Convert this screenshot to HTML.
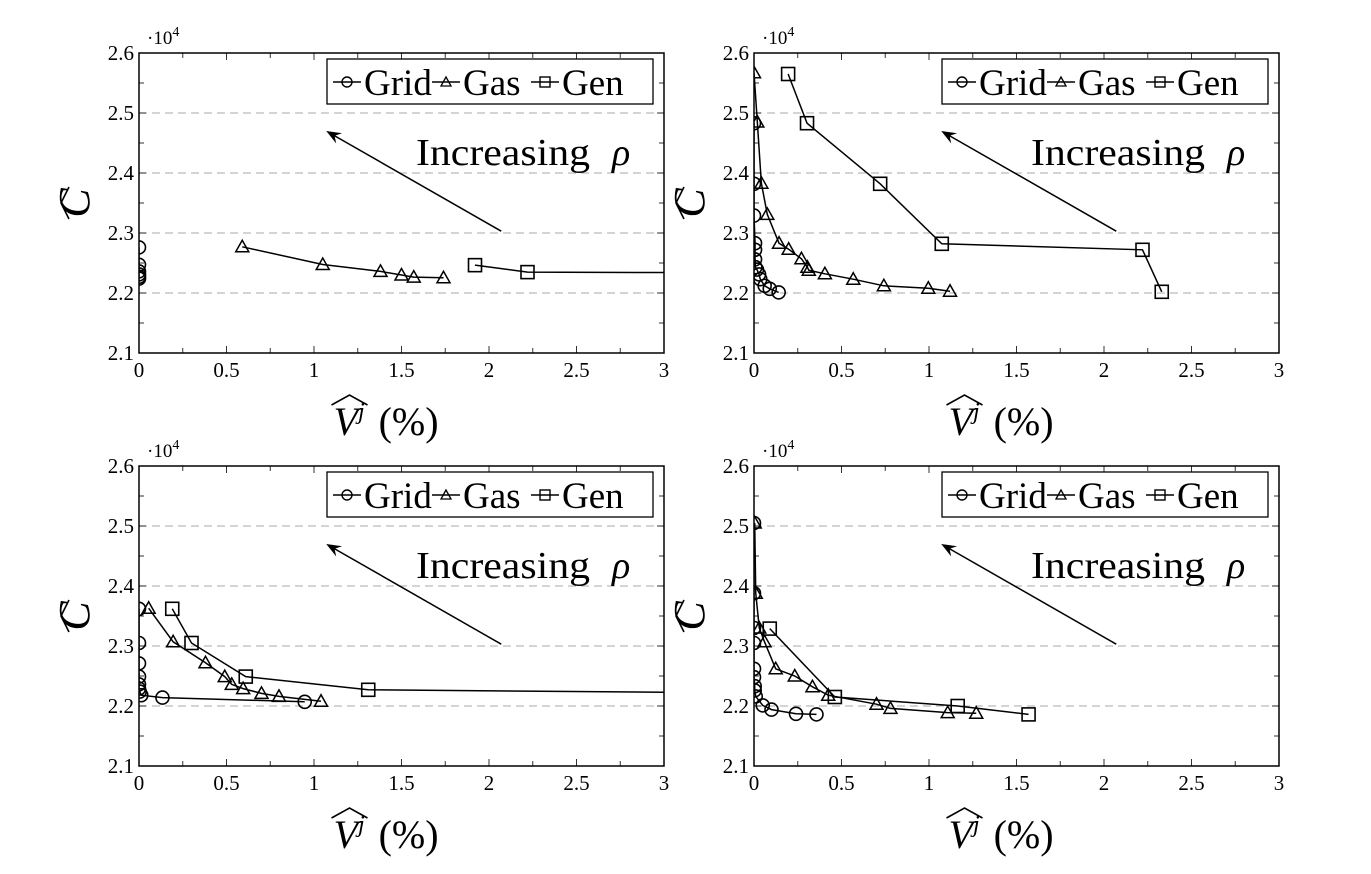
<!DOCTYPE html>
<html><head><meta charset="utf-8"><style>
html,body{margin:0;padding:0;background:#fff;}
svg{display:block;font-family:"Liberation Serif",serif;}
</style></head><body>
<svg id="fig" width="1371" height="874" viewBox="0 0 1371 874"></svg>
<script>
// ---- data (values in units of 1e4 for cost; percent for x) ----
const panel1GridX=[0,0,0,0,0,0];
const panel1GridY=[2.276,2.247,2.236,2.231,2.227,2.224];
const panel1GasX=[0.59,1.05,1.38,1.50,1.57,1.74];
const panel1GasY=[2.277,2.2475,2.236,2.230,2.2265,2.2254];
const panel1GenX=[1.92,2.22,3.6];
const panel1GenY=[2.2464,2.2348,2.2335];

const panel2GridX=[0,0,0,0.006,0.006,0.006,0.008,0.017,0.029,0.036,0.061,0.09,0.141];
const panel2GridY=[2.483,2.382,2.329,2.283,2.272,2.256,2.243,2.239,2.231,2.223,2.212,2.207,2.201];
const panel2GasX=[0,0.019,0.042,0.076,0.143,0.198,0.271,0.305,0.313,0.405,0.567,0.742,0.996,1.12];
const panel2GasY=[2.567,2.485,2.383,2.331,2.283,2.273,2.257,2.243,2.238,2.232,2.223,2.212,2.208,2.203];
const panel2GenX=[0.195,0.303,0.721,1.073,2.22,2.33];
const panel2GenY=[2.565,2.483,2.382,2.282,2.272,2.202];

const panel3GridX=[0,0,0,0,0,0,0.004,0.013,0.134,0.947];
const panel3GridY=[2.362,2.305,2.271,2.249,2.236,2.229,2.224,2.218,2.214,2.207];
const panel3GasX=[0.055,0.195,0.38,0.49,0.53,0.595,0.70,0.80,1.04];
const panel3GasY=[2.363,2.307,2.272,2.249,2.236,2.229,2.221,2.216,2.208];
const panel3GenX=[0.19,0.30,0.61,1.31,3.6];
const panel3GenY=[2.362,2.305,2.249,2.227,2.2215];

const panel4GridX=[0,0,0,0,0,0,0.004,0.004,0.01,0.05,0.10,0.24,0.357];
const panel4GridY=[2.505,2.388,2.330,2.305,2.262,2.248,2.233,2.226,2.216,2.201,2.194,2.187,2.186];
const panel4GasX=[0.004,0.01,0.03,0.06,0.124,0.233,0.334,0.424,0.70,0.78,1.107,1.27];
const panel4GasY=[2.505,2.388,2.330,2.307,2.262,2.250,2.232,2.218,2.203,2.196,2.189,2.188];
const panel4GenX=[0.09,0.462,1.164,1.569];
const panel4GenY=[2.329,2.215,2.200,2.186];

const xTicks=[0,0.5,1,1.5,2,2.5,3];
const xTickLabels=["0","0.5","1","1.5","2","2.5","3"];
const yTicks=[2.1,2.2,2.3,2.4,2.5,2.6];
const yTickLabels=["2.1","2.2","2.3","2.4","2.5","2.6"];
const gridYs=[2.2,2.3,2.4,2.5];
const arrowFrom=[2.07,2.303];
const arrowTo=[1.07,2.47];

const panels=[
 {name:"top-left",x0:139,y0:53,gx:panel1GridX,gy:panel1GridY,ax:panel1GasX,ay:panel1GasY,nx:panel1GenX,ny:panel1GenY},
 {name:"top-right",x0:754,y0:53,gx:panel2GridX,gy:panel2GridY,ax:panel2GasX,ay:panel2GasY,nx:panel2GenX,ny:panel2GenY},
 {name:"bottom-left",x0:139,y0:466,gx:panel3GridX,gy:panel3GridY,ax:panel3GasX,ay:panel3GasY,nx:panel3GenX,ny:panel3GenY},
 {name:"bottom-right",x0:754,y0:466,gx:panel4GridX,gy:panel4GridY,ax:panel4GasX,ay:panel4GasY,nx:panel4GenX,ny:panel4GenY}
];
const W=525,H=300;
const NS="http://www.w3.org/2000/svg";
const svg=document.getElementById('fig');
function mk(tag,attrs,parent){const e=document.createElementNS(NS,tag);for(const k in attrs)e.setAttribute(k,attrs[k]);(parent||svg).appendChild(e);return e;}
function marker(kind,px,py,g){
 let e;
 if(kind==="grid"){e=mk('circle',{cx:px,cy:py,r:6.5,fill:'none',stroke:'#000','stroke-width':1.6},g);}
 else if(kind==="gas"){e=mk('polygon',{points:`${px},${py-6.5} ${px-6.5},${py+5} ${px+6.5},${py+5}`,fill:'none',stroke:'#000','stroke-width':1.5},g);}
 else {e=mk('rect',{x:px-6.5,y:py-6.5,width:13,height:13,fill:'none',stroke:'#000','stroke-width':1.6},g);}
 return e;
}
panels.forEach((p,i)=>{
 const sx=v=>p.x0+v/3*W;
 const sy=v=>p.y0+H-(v-2.1)/0.5*H;
 const g=mk('g',{});
 
 
 const cid='clip'+i;
 const cp=mk('clipPath',{id:cid},g);mk('rect',{x:p.x0,y:p.y0,width:W,height:H},cp);
 gridYs.forEach(v=>{const l=mk('line',{x1:p.x0,x2:p.x0+W,y1:sy(v),y2:sy(v),stroke:'#bbb','stroke-width':1.2,'stroke-dasharray':'8,5'},g);
  });
 for(let k=0;k<=12;k++){const x=p.x0+k*W/12;const len=k%2===0?7:5;
  mk('line',{x1:x,x2:x,y1:p.y0+H,y2:p.y0+H-len,stroke:'#333','stroke-width':1},g);
  mk('line',{x1:x,x2:x,y1:p.y0,y2:p.y0+len,stroke:'#333','stroke-width':1},g);}
 for(let k=0;k<=10;k++){const y=p.y0+k*H/10;const len=k%2===0?7:5;
  mk('line',{x1:p.x0,x2:p.x0+len,y1:y,y2:y,stroke:'#333','stroke-width':1},g);
  mk('line',{x1:p.x0+W,x2:p.x0+W-len,y1:y,y2:y,stroke:'#333','stroke-width':1},g);}
 xTicks.forEach((v,k)=>{const t=mk('text',{x:sx(v),y:p.y0+H+24,'text-anchor':'middle','font-size':21},g);t.textContent=xTickLabels[k];
  });
 yTicks.forEach((v,k)=>{const t=mk('text',{x:p.x0-5,y:sy(v)+7,'text-anchor':'end','font-size':21},g);t.textContent=yTickLabels[k];
  });
 const sc=mk('text',{x:p.x0+8,y:p.y0-9,'font-size':19},g);sc.innerHTML='·10<tspan dy="-8" font-size="14">4</tspan>';
 
 const series=[["grid",p.gx,p.gy],["gas",p.ax,p.ay],["gen",p.nx,p.ny]];
 const sg=mk('g',{'clip-path':`url(#${cid})`},g);
 series.forEach(([kind,xs,ys])=>{
  const pts=xs.map((v,j)=>sx(v)+','+sy(ys[j])).join(' ');
  const pl=mk('polyline',{points:pts,fill:'none',stroke:'#000','stroke-width':1.5},sg);
  
  xs.forEach((v,j)=>{const m=marker(kind,sx(v),sy(ys[j]),sg);
   });
 });
 const fr=mk('rect',{x:p.x0,y:p.y0,width:W,height:H,fill:'none',stroke:'#000','stroke-width':1.5},g);
 
 const ax1=sx(arrowFrom[0]),ay1=sy(arrowFrom[1]),ax2=sx(arrowTo[0]),ay2=sy(arrowTo[1]);
 const ang=Math.atan2(ay2-ay1,ax2-ax1);
 const ar=mk('line',{x1:ax1,y1:ay1,x2:ax2-Math.cos(ang)*6,y2:ay2-Math.sin(ang)*6,stroke:'#000','stroke-width':1.5},g);
 
 const hl=16,hw=0.38;
 const ah=mk('polygon',{points:`${ax2},${ay2} ${ax2-hl*Math.cos(ang-hw)},${ay2-hl*Math.sin(ang-hw)} ${ax2-hl*0.6*Math.cos(ang)},${ay2-hl*0.6*Math.sin(ang)} ${ax2-hl*Math.cos(ang+hw)},${ay2-hl*Math.sin(ang+hw)}`,fill:'#000'},g);
 
 const itg=mk('g',{},g);
 
 const it=mk('text',{x:p.x0+W-248,y:p.y0+112,'font-size':38,textLength:174,lengthAdjust:'spacingAndGlyphs'},itg);
 it.textContent='Increasing';
 const rho=mk('text',{x:p.x0+W-52,y:p.y0+112,'font-size':38,'font-style':'italic'},itg);
 rho.textContent='ρ';
 const lg=mk('g',{},g);
 
 const lx=p.x0+W-337,ly=p.y0+6;
 mk('rect',{x:lx,y:ly,width:326,height:45,fill:'#fff',stroke:'#000','stroke-width':1.3},lg);
 const ents=[["grid","Grid",lx+6],["gas","Gas",lx+105],["gen","Gen",lx+204]];
 ents.forEach(([k,lab,ex])=>{
  const eg=mk('g',{},lg);
  
  const cy=ly+23;
  mk('line',{x1:ex,x2:ex+28,y1:cy,y2:cy,stroke:'#000','stroke-width':1.5},eg);
  if(k==="grid")mk('circle',{cx:ex+14,cy:cy,r:5,fill:'none',stroke:'#000','stroke-width':1.4},eg);
  else if(k==="gas")mk('polygon',{points:`${ex+14},${cy-5} ${ex+9},${cy+4} ${ex+19},${cy+4}`,fill:'none',stroke:'#000','stroke-width':1.3},eg);
  else mk('rect',{x:ex+9,y:cy-5,width:10,height:10,fill:'none',stroke:'#000','stroke-width':1.4},eg);
  const t=mk('text',{x:ex+31,y:ly+36,'font-size':37},eg);t.textContent=lab;
 });
 const cx=p.x0-64, cy=p.y0+150;
 const ylg=mk('g',{},g);
 
 const yl=mk('text',{x:0,y:0,'font-size':44,'font-style':'italic','text-anchor':'middle',transform:`translate(${cx+14},${cy}) rotate(-90)`},ylg);
 yl.textContent='C';
 mk('polyline',{points:`${cx-6},${cy-16} ${cx-14},${cy} ${cx-6},${cy+16}`,fill:'none',stroke:'#000','stroke-width':1.6},ylg);
 const xlg=mk('g',{},g);
 
 const bx=p.x0+W/2-68, by=p.y0+H+82;
 const xl=mk('text',{x:bx,y:by,'font-size':40},xlg);
 xl.innerHTML='<tspan font-style="italic">V</tspan><tspan dy="-16" font-size="24" font-style="italic">j</tspan><tspan dy="16" dx="14">(%)</tspan>';
 mk('polyline',{points:`${bx-2},${by-30} ${bx+16},${by-40} ${bx+34},${by-30}`,fill:'none',stroke:'#000','stroke-width':1.6},xlg);
});
</script>
</body></html>
